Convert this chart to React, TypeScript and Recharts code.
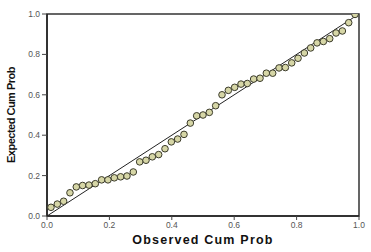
import React from "react";
import {
  ScatterChart,
  Scatter,
  XAxis,
  YAxis,
  ReferenceLine,
  ReferenceArea,
} from "recharts";

const observedCumProb = [
  0.0127, 0.033, 0.0533, 0.0736, 0.0939, 0.1142, 0.1345, 0.1548, 0.1751, 0.1954,
  0.2157, 0.236, 0.2563, 0.2766, 0.297, 0.3173, 0.3376, 0.3579, 0.3782, 0.3985,
  0.4188, 0.4391, 0.4594, 0.4797, 0.5, 0.5203, 0.5406, 0.5609, 0.5812, 0.6015,
  0.6218, 0.6421, 0.6624, 0.6827, 0.703, 0.7234, 0.7437, 0.764, 0.7843, 0.8046,
  0.8249, 0.8452, 0.8655, 0.8858, 0.9061, 0.9264, 0.9467, 0.967, 0.9873,
];

const expectedCumProb = [
  0.043, 0.059, 0.073, 0.115, 0.144, 0.151, 0.153, 0.16, 0.179, 0.179,
  0.189, 0.194, 0.198, 0.218, 0.268, 0.276, 0.293, 0.304, 0.333, 0.367,
  0.381, 0.404, 0.46, 0.496, 0.5, 0.513, 0.546, 0.6, 0.622, 0.637,
  0.653, 0.656, 0.678, 0.682, 0.707, 0.707, 0.733, 0.735, 0.758, 0.781,
  0.807, 0.832, 0.857, 0.864, 0.878, 0.906, 0.916, 0.957, 0.998,
];

const axisTicks = [0, 0.2, 0.4, 0.6, 0.8, 1.0];

const data = observedCumProb.map((x, i) => ({ x, y: expectedCumProb[i] }));

const Dot = (props: any) => {
  const { cx, cy } = props;
  if (cx == null || cy == null) return null;
  return (
    <circle cx={cx} cy={cy} r={3.3} fill="#d6d6a6" stroke="#3a3a2a" strokeWidth={1} />
  );
};

const tickStyle = {
  fontSize: 8.5,
  fill: "#555",
  fontFamily: "Liberation Sans, Arial, sans-serif",
};

export default function App() {
  return (
    <div style={{ position: "absolute", left: 0, top: 0, width: 371, height: 252, background: "#fff" }}>
      <ScatterChart
        width={371}
        height={252}
        margin={{ top: 14, right: 12, bottom: 0, left: 0 }}
      >
        <XAxis
          type="number"
          dataKey="x"
          domain={[0, 1]}
          ticks={axisTicks}
          tickFormatter={(v: number) => v.toFixed(1)}
          tick={tickStyle}
          tickSize={4}
          tickMargin={2}
          height={36}
          stroke="#222"
          axisLine={{ stroke: "#222", strokeWidth: 1.5 }}
          tickLine={{ stroke: "#444" }}
          allowDataOverflow
          label={{
            value: "Observed Cum Prob",
            position: "insideBottom",
            offset: 8,
            style: {
              fontSize: 12.5,
              letterSpacing: 1.2,
              fontWeight: "bold",
              fill: "#111",
              fontFamily: "Liberation Sans, Arial, sans-serif",
            },
          }}
        />
        <YAxis
          type="number"
          dataKey="y"
          domain={[0, 1]}
          ticks={axisTicks}
          tickFormatter={(v: number) => v.toFixed(1)}
          tick={tickStyle}
          tickSize={5}
          tickMargin={2}
          width={47}
          axisLine={{ stroke: "#222", strokeWidth: 1.5 }}
          tickLine={{ stroke: "#444" }}
          allowDataOverflow
          label={{
            value: "Expected Cum Prob",
            angle: -90,
            position: "insideLeft",
            offset: 11,
            style: {
              textAnchor: "middle",
              fontSize: 11,
              letterSpacing: -0.5,
              fontWeight: "bold",
              fill: "#111",
              fontFamily: "Liberation Sans, Arial, sans-serif",
            },
          }}
        />
        <ReferenceArea
          x1={0}
          x2={1}
          y1={0}
          y2={1}
          fill="none"
          stroke="#333"
          strokeWidth={1.5}
          ifOverflow="visible"
        />
        <ReferenceLine
          segment={[
            { x: 0, y: 0 },
            { x: 1, y: 1 },
          ]}
          stroke="#222"
          strokeWidth={1}
          ifOverflow="visible"
        />
        <Scatter data={data} shape={<Dot />} isAnimationActive={false} />
      </ScatterChart>
    </div>
  );
}
